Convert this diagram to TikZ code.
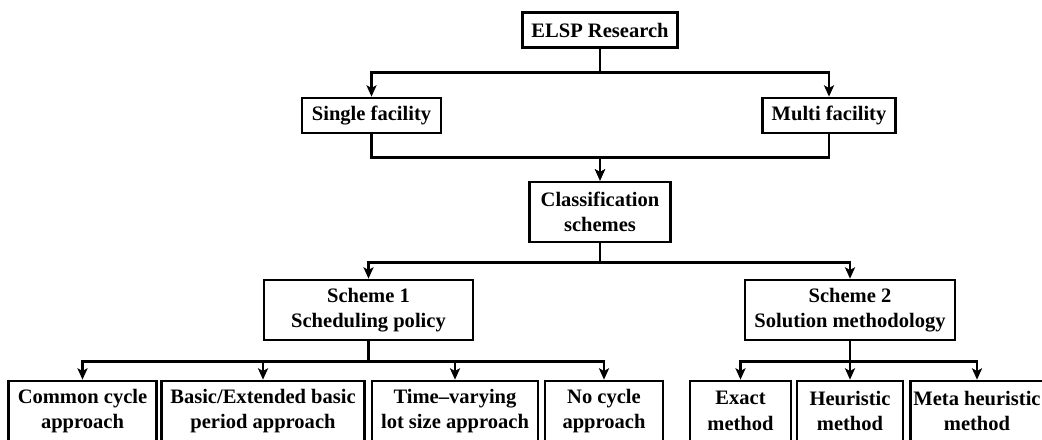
\documentclass[tikz,border=0pt]{standalone}
\usepackage{fontspec}
\setmainfont{Liberation Serif}
\usepackage{tikz}
\usetikzlibrary{positioning,arrows.meta}
\tikzset{>={Stealth[width=7.5pt,length=8.5pt,inset=2pt]}}
\tikzset{
	box/.style={draw, line width=2pt, align=center, inner xsep=6.75pt, inner ysep=0pt,
		font=\fontsize{15.4}{19}\selectfont\bfseries},
	onebox/.style={box, minimum height=26.25pt},
	twobox/.style={box, minimum height=45pt},
	wd/.style={minimum width=#1*0.75pt},
	link/.style={line width=2pt}
}

\begin{document}
\begin{tikzpicture}[x=0.75pt,y=0.75pt]
		\useasboundingbox (0,0) rectangle (1042,439);
		\clip (0,0) rectangle (1042,439);
		
		\node(elsp)   [onebox,wd=153] at (600,409)     {ELSP Research};
		\node(single) [onebox,wd=139] at (371.5,323.5) {Single facility};
		\node(multi)  [onebox,wd=132] at (829,323.5)   {Multi facility};
		\node(cls)    [twobox,wd=141] at (600,227)     {Classification\\schemes};
		\node(sch1)   [twobox,wd=209] at (368.5,129)   {Scheme 1\\Scheduling policy};
		\node(sch2)   [twobox,wd=210] at (850,129)     {Scheme 2\\Solution methodology};
		
		% bottom row
		\node(common) [twobox,wd=147] at (82.5,28)  {Common cycle\\approach};
		\node(basic)  [twobox,wd=200] at (263,28)   {Basic/Extended basic\\period approach};
		\node(tvary)  [twobox,wd=164] at (455,28)   {Time--varying\\lot size approach};
		\node(nocyc)  [twobox,wd=118] at (604,28)   {No cycle\\approach};
		\node(exact)  [twobox,wd=101] at (740.5,28) {Exact\\method};
		\node(heur)   [twobox,wd=106] at (850,28)   {Heuristic\\method};
		\node(meta)   [twobox,inner xsep=2pt] at (977,28) {Meta heuristic\\method};
		
		\draw[link,->](elsp.south) -- ++(0,-24) -| (single.north);
		\draw[link,->](elsp.south) -- ++(0,-24) -| (multi.north);
		
		\draw[link,->](single.south) -- ++(0,-23) -| (cls.north);
		\draw[link,->](multi.south) -- ++(0,-23) -| (cls.north);
		
		\draw[link,->](cls.south) -- ++(0,-19) -| (sch1.north);
		\draw[link,->](cls.south) -- ++(0,-19) -| (sch2.north);
		
		\foreach \n in {common,basic,tvary,nocyc}
			\draw[link,->](sch1.south) -- ++(0,-20) -| (\n.north);
		\foreach \n in {exact,heur,meta}
			\draw[link,->](sch2.south) -- ++(0,-20) -| (\n.north);
		
	\end{tikzpicture}
\end{document}
